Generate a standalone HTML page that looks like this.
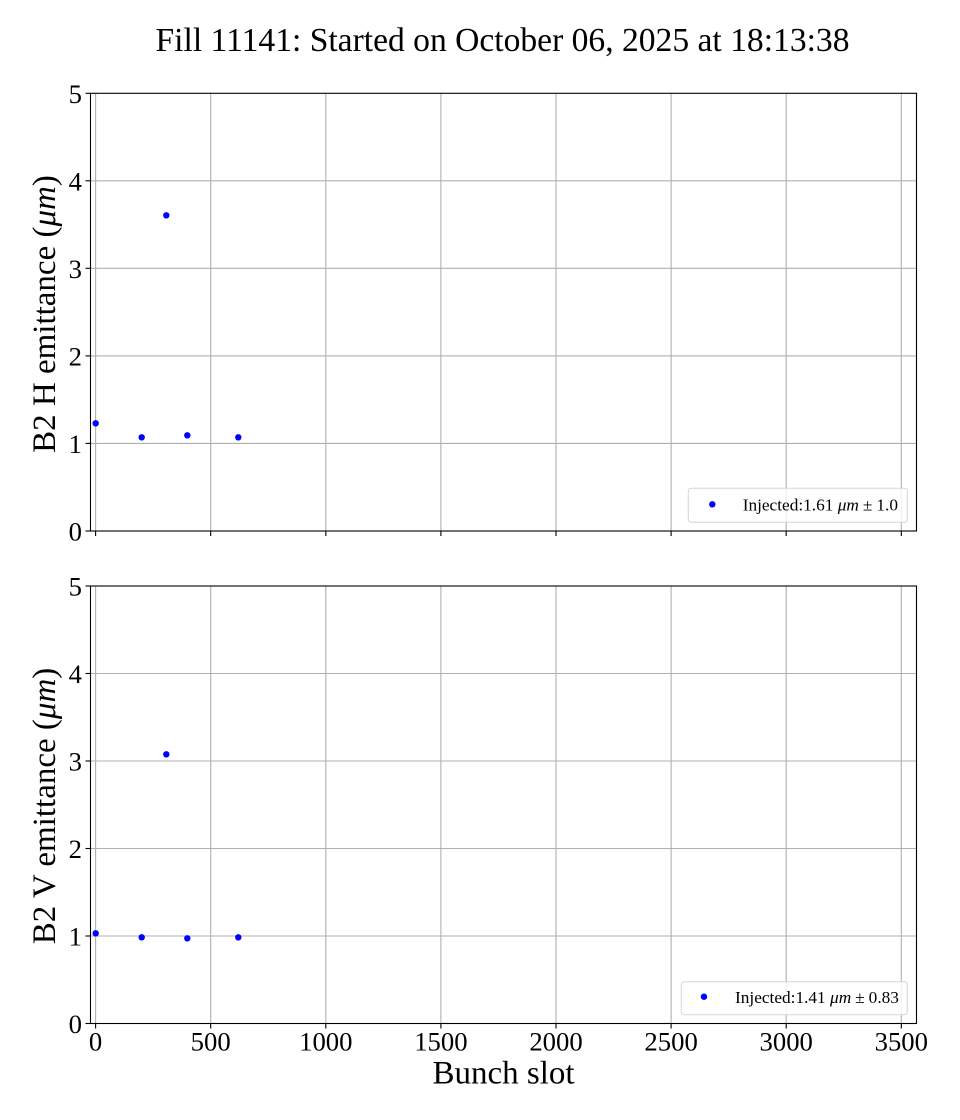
<!DOCTYPE html>
<html>
<head>
<meta charset="utf-8">
<style>
  html, body { margin: 0; padding: 0; background: #ffffff; }
  svg { display: block; }
  text { font-family: "Liberation Serif", "DejaVu Serif", serif; fill: #000; }
</style>
</head>
<body>
<svg width="960" height="1120" viewBox="0 0 960 1120" xmlns="http://www.w3.org/2000/svg">
  <rect x="0" y="0" width="960" height="1120" fill="#ffffff"/>

  <!-- Title -->
  <text x="155.5" y="51" font-size="33.3" textLength="694" lengthAdjust="spacingAndGlyphs">Fill 11141: Started on October 06, 2025 at 18:13:38</text>

  <!-- ================= TOP AXES ================= -->
  <g>
    <g stroke="#b0b0b0" stroke-width="1.1">
      <line x1="95.6" y1="93.3" x2="95.6" y2="531"/>
      <line x1="210.7" y1="93.3" x2="210.7" y2="531"/>
      <line x1="325.8" y1="93.3" x2="325.8" y2="531"/>
      <line x1="440.9" y1="93.3" x2="440.9" y2="531"/>
      <line x1="556" y1="93.3" x2="556" y2="531"/>
      <line x1="671.1" y1="93.3" x2="671.1" y2="531"/>
      <line x1="786.2" y1="93.3" x2="786.2" y2="531"/>
      <line x1="901.3" y1="93.3" x2="901.3" y2="531"/>
      <line x1="90.5" y1="443.4" x2="916.5" y2="443.4"/>
      <line x1="90.5" y1="355.9" x2="916.5" y2="355.9"/>
      <line x1="90.5" y1="268.3" x2="916.5" y2="268.3"/>
      <line x1="90.5" y1="180.8" x2="916.5" y2="180.8"/>
    </g>
    <rect x="90.5" y="93.3" width="826" height="437.7" fill="none" stroke="#000" stroke-width="1.1"/>
    <g stroke="#000" stroke-width="1.1">
      <line x1="95.6" y1="531" x2="95.6" y2="536"/>
      <line x1="210.7" y1="531" x2="210.7" y2="536"/>
      <line x1="325.8" y1="531" x2="325.8" y2="536"/>
      <line x1="440.9" y1="531" x2="440.9" y2="536"/>
      <line x1="556" y1="531" x2="556" y2="536"/>
      <line x1="671.1" y1="531" x2="671.1" y2="536"/>
      <line x1="786.2" y1="531" x2="786.2" y2="536"/>
      <line x1="901.3" y1="531" x2="901.3" y2="536"/>
      <line x1="85.5" y1="531" x2="90.5" y2="531"/>
      <line x1="85.5" y1="443.4" x2="90.5" y2="443.4"/>
      <line x1="85.5" y1="355.9" x2="90.5" y2="355.9"/>
      <line x1="85.5" y1="268.3" x2="90.5" y2="268.3"/>
      <line x1="85.5" y1="180.8" x2="90.5" y2="180.8"/>
      <line x1="85.5" y1="93.3" x2="90.5" y2="93.3"/>
    </g>
    <g font-size="26.7" text-anchor="end">
      <text x="82" y="540.5">0</text>
      <text x="82" y="452.9">1</text>
      <text x="82" y="365.4">2</text>
      <text x="82" y="277.8">3</text>
      <text x="82" y="190.3">4</text>
      <text x="82" y="102.8">5</text>
    </g>
    <text transform="translate(55,314) rotate(-90)" font-size="33" text-anchor="middle">B2 H emittance (<tspan font-style="italic">μm</tspan>)</text>
    <g fill="#0000ff">
      <circle cx="95.7" cy="423.3" r="3.2"/>
      <circle cx="141.7" cy="437.3" r="3.2"/>
      <circle cx="166.3" cy="215.3" r="3.2"/>
      <circle cx="187.3" cy="435.3" r="3.2"/>
      <circle cx="238.3" cy="437.3" r="3.2"/>
    </g>
    <rect x="688.3" y="488.3" width="219" height="34" rx="3" ry="3" fill="#ffffff" fill-opacity="0.8" stroke="#d5d5d5" stroke-width="1"/>
    <circle cx="712.3" cy="504.3" r="3.2" fill="#0000ff"/>
    <text x="742.7" y="510.5" font-size="17.3">Injected:1.61 <tspan font-style="italic">μm</tspan><tspan dx="4">±</tspan><tspan dx="4">1.0</tspan></text>
  </g>

  <!-- ================= BOTTOM AXES ================= -->
  <g>
    <g stroke="#b0b0b0" stroke-width="1.1">
      <line x1="95.6" y1="586" x2="95.6" y2="1023.5"/>
      <line x1="210.7" y1="586" x2="210.7" y2="1023.5"/>
      <line x1="325.8" y1="586" x2="325.8" y2="1023.5"/>
      <line x1="440.9" y1="586" x2="440.9" y2="1023.5"/>
      <line x1="556" y1="586" x2="556" y2="1023.5"/>
      <line x1="671.1" y1="586" x2="671.1" y2="1023.5"/>
      <line x1="786.2" y1="586" x2="786.2" y2="1023.5"/>
      <line x1="901.3" y1="586" x2="901.3" y2="1023.5"/>
      <line x1="90.5" y1="936" x2="916.5" y2="936"/>
      <line x1="90.5" y1="848.5" x2="916.5" y2="848.5"/>
      <line x1="90.5" y1="761" x2="916.5" y2="761"/>
      <line x1="90.5" y1="673.5" x2="916.5" y2="673.5"/>
    </g>
    <rect x="90.5" y="586" width="826" height="437.5" fill="none" stroke="#000" stroke-width="1.1"/>
    <g stroke="#000" stroke-width="1.1">
      <line x1="95.6" y1="1023.5" x2="95.6" y2="1028.5"/>
      <line x1="210.7" y1="1023.5" x2="210.7" y2="1028.5"/>
      <line x1="325.8" y1="1023.5" x2="325.8" y2="1028.5"/>
      <line x1="440.9" y1="1023.5" x2="440.9" y2="1028.5"/>
      <line x1="556" y1="1023.5" x2="556" y2="1028.5"/>
      <line x1="671.1" y1="1023.5" x2="671.1" y2="1028.5"/>
      <line x1="786.2" y1="1023.5" x2="786.2" y2="1028.5"/>
      <line x1="901.3" y1="1023.5" x2="901.3" y2="1028.5"/>
      <line x1="85.5" y1="1023.5" x2="90.5" y2="1023.5"/>
      <line x1="85.5" y1="936" x2="90.5" y2="936"/>
      <line x1="85.5" y1="848.5" x2="90.5" y2="848.5"/>
      <line x1="85.5" y1="761" x2="90.5" y2="761"/>
      <line x1="85.5" y1="673.5" x2="90.5" y2="673.5"/>
      <line x1="85.5" y1="586" x2="90.5" y2="586"/>
    </g>
    <g font-size="26.7" text-anchor="end">
      <text x="82" y="1033">0</text>
      <text x="82" y="945.5">1</text>
      <text x="82" y="858">2</text>
      <text x="82" y="770.5">3</text>
      <text x="82" y="683">4</text>
      <text x="82" y="595.5">5</text>
    </g>
    <g font-size="26.7" text-anchor="middle">
      <text x="95.6" y="1050.7">0</text>
      <text x="210.7" y="1050.7">500</text>
      <text x="325.8" y="1050.7">1000</text>
      <text x="440.9" y="1050.7">1500</text>
      <text x="556" y="1050.7">2000</text>
      <text x="671.1" y="1050.7">2500</text>
      <text x="786.2" y="1050.7">3000</text>
      <text x="901.3" y="1050.7">3500</text>
    </g>
    <text x="503.5" y="1083.3" font-size="33" text-anchor="middle">Bunch slot</text>
    <text transform="translate(55,806) rotate(-90)" font-size="33" text-anchor="middle">B2 V emittance (<tspan font-style="italic">μm</tspan>)</text>
    <g fill="#0000ff">
      <circle cx="95.7" cy="933.3" r="3.2"/>
      <circle cx="141.7" cy="937.3" r="3.2"/>
      <circle cx="166.3" cy="754.3" r="3.2"/>
      <circle cx="187.3" cy="938.3" r="3.2"/>
      <circle cx="238.3" cy="937.3" r="3.2"/>
    </g>
    <rect x="681.3" y="981.7" width="226" height="33" rx="3" ry="3" fill="#ffffff" fill-opacity="0.8" stroke="#d5d5d5" stroke-width="1"/>
    <circle cx="704" cy="996.7" r="3.2" fill="#0000ff"/>
    <text x="735" y="1003" font-size="17.3">Injected:1.41 <tspan font-style="italic">μm</tspan><tspan dx="4">±</tspan><tspan dx="4">0.83</tspan></text>
  </g>
</svg>
</body>
</html>
